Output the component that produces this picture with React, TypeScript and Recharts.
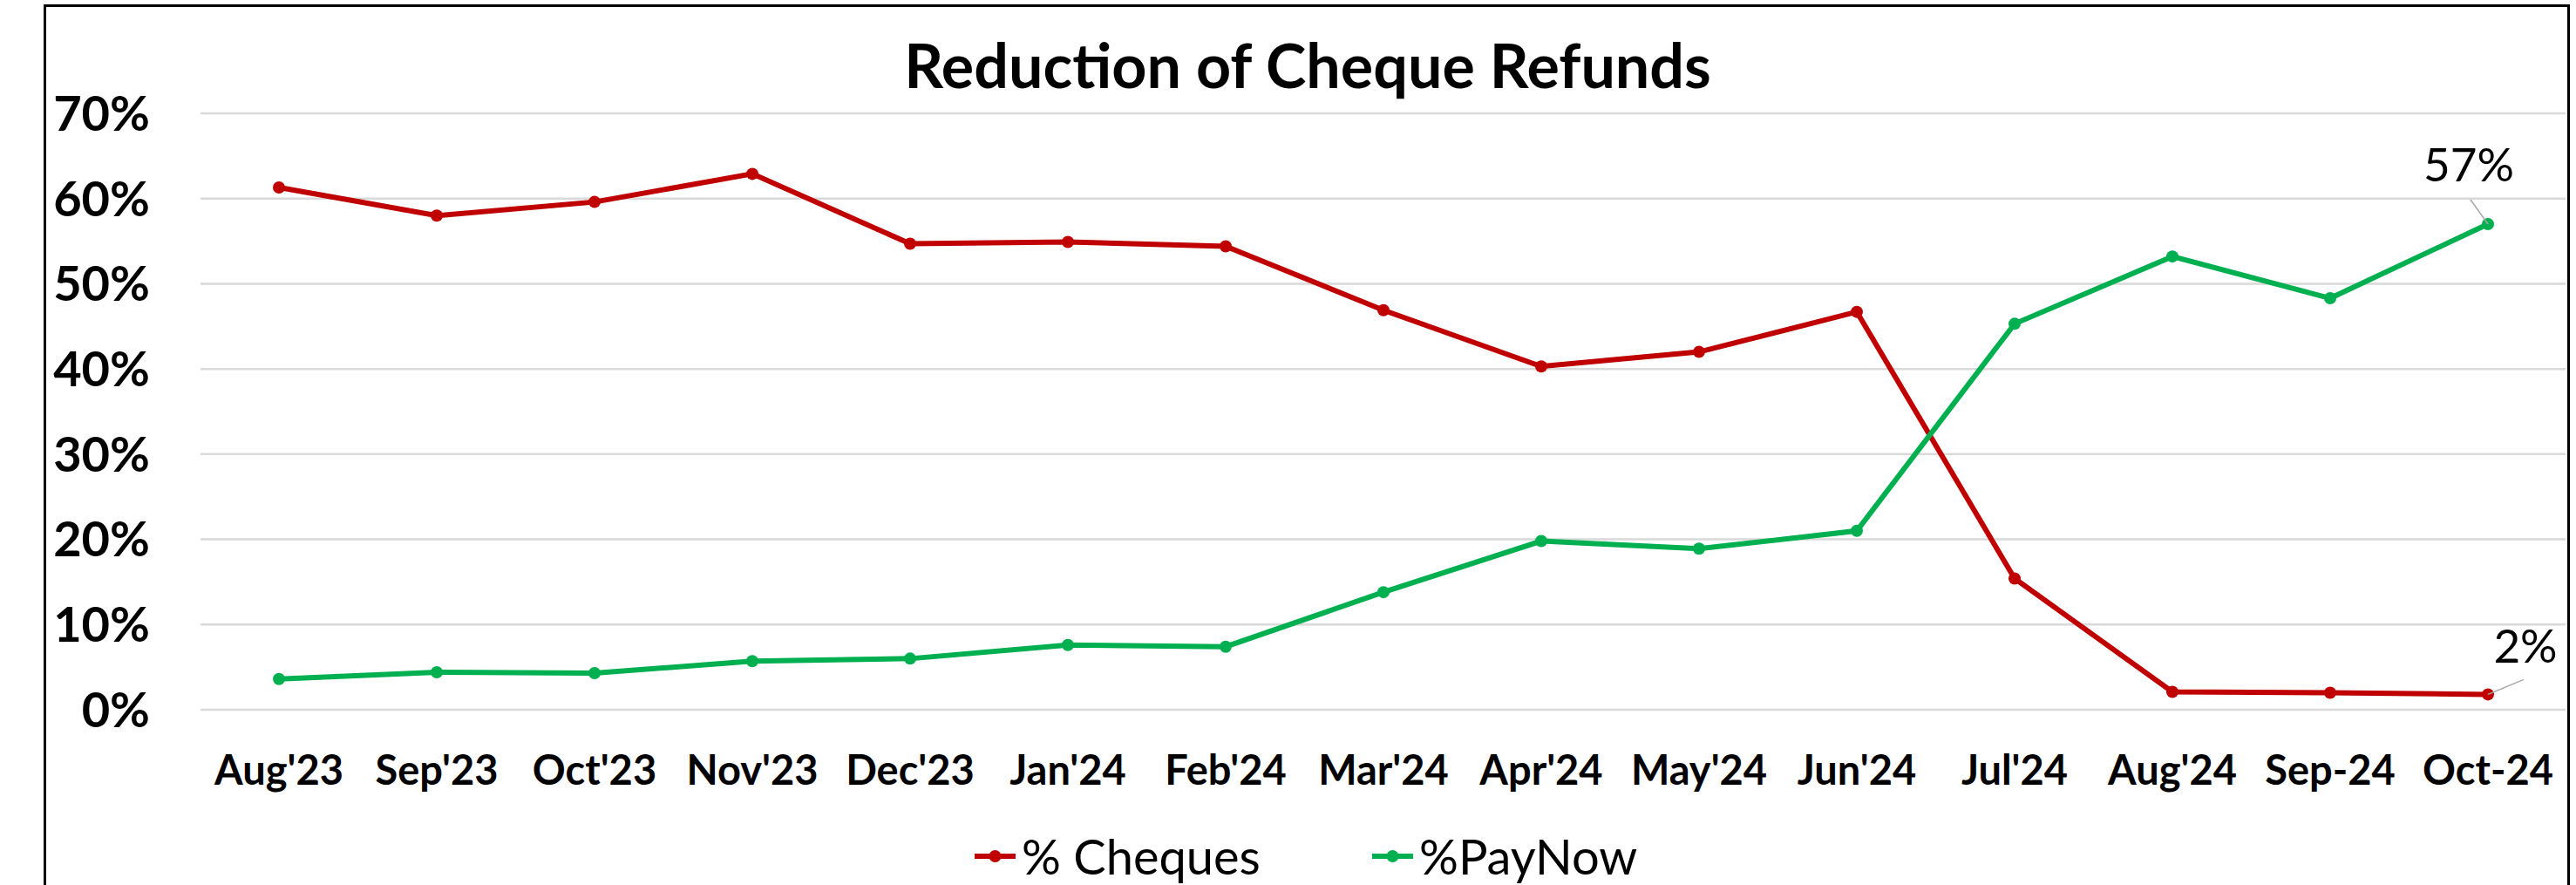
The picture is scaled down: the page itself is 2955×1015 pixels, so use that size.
import React from 'react';
import { LineChart, Line, XAxis, YAxis, CartesianGrid, LabelList } from 'recharts';

// months on the category axis
const months = [
  "Aug'23", "Sep'23", "Oct'23", "Nov'23", "Dec'23", "Jan'24", "Feb'24", "Mar'24",
  "Apr'24", "May'24", "Jun'24", "Jul'24", "Aug'24", "Sep-24", "Oct-24",
];

// share of refunds paid by cheque (%)
const chequesPct = [61.3, 58.0, 59.6, 62.9, 54.7, 54.9, 54.4, 46.9, 40.3, 42.0, 46.7, 15.4, 2.1, 2.0, 1.8];

// share of refunds paid by PayNow (%)
const payNowPct = [3.6, 4.4, 4.3, 5.7, 6.0, 7.6, 7.4, 13.8, 19.8, 18.9, 21.0, 45.3, 53.2, 48.3, 57.0];

const yTicks = [0, 10, 20, 30, 40, 50, 60, 70];

const series = [
  { key: 'cheques', name: '% Cheques', color: '#C00000', labelDx: 43, labelDy: -57 },
  { key: 'paynow', name: '%PayNow', color: '#00B050', labelDx: -22, labelDy: -70 },
];

const FONT = 'Lato, Carlito, Calibri, sans-serif';

interface Row {
  month: string;
  cheques: number;
  paynow: number;
}

const data: Row[] = months.map((m, i) => ({
  month: m,
  cheques: chequesPct[i],
  paynow: payNowPct[i],
}));

// data label for the last point only, with a thin leader line
function makeLastLabel(dx: number, dy: number) {
  return function LastLabel(props: any) {
    const { x, y, value, index } = props;
    if (index !== months.length - 1) return null;
    const tx = x + dx;
    const ty = y + dy;
    // leader line runs from the point toward the text
    const lx = dx > 0 ? tx - 2 : tx + 2;
    const ly = dx > 0 ? ty + 40 : ty + 42;
    return (
      <g>
        <line x1={x} y1={y} x2={lx} y2={ly} stroke="#A6A6A6" strokeWidth={1.5} />
        <text
          x={tx}
          y={ty}
          textAnchor="middle"
          dominantBaseline="central"
          fontFamily={FONT}
          fontSize={53}
          fill="#000"
        >
          {`${Math.round(value)}%`}
        </text>
      </g>
    );
  };
}

function LegendIcon({ color }: { color: string }) {
  return (
    <svg width={47} height={20} style={{ display: 'block' }}>
      <line x1={0} y1={10} x2={47} y2={10} stroke={color} strokeWidth={6} />
      <circle cx={23.5} cy={10} r={7} fill={color} />
    </svg>
  );
}

export default function App() {
  return (
    <div
      style={{
        position: 'absolute',
        left: 0,
        top: 0,
        width: 2955,
        height: 1015,
        overflow: 'hidden',
        background: '#fff',
        fontFamily: FONT,
      }}
    >
      {/* chart frame */}
      <div
        style={{
          position: 'absolute',
          left: 50,
          top: 5,
          width: 2898,
          height: 1100,
          border: '3px solid #000',
          boxSizing: 'border-box',
          pointerEvents: 'none',
        }}
      />

      {/* title */}
      <svg width={2955} height={130} style={{ position: 'absolute', left: 0, top: 0 }}>
        <text
          x={1500}
          y={101}
          textAnchor="middle"
          fontFamily={FONT}
          fontWeight={700}
          fontSize={70}
          fill="#000"
        >
          Reduction of Cheque Refunds
        </text>
      </svg>

      <div style={{ position: 'absolute', left: 0, top: 0 }}>
        <LineChart
          width={2955}
          height={1015}
          data={data}
          margin={{ top: 130, right: 12, bottom: 101, left: 0 }}
        >
          <CartesianGrid vertical={false} stroke="#D9D9D9" strokeWidth={2.5} />
          <XAxis
            dataKey="month"
            height={100}
            padding={{ left: 90, right: 89 }}
            tickLine={false}
            axisLine={false}
            tickSize={0}
            tickMargin={53}
            interval={0}
            tick={{ fill: '#000', fontSize: 47, fontWeight: 700, fontFamily: FONT }}
          />
          <YAxis
            width={230}
            domain={[0, 70]}
            ticks={yTicks}
            tickLine={false}
            axisLine={false}
            tickSize={0}
            tickMargin={58}
            tickFormatter={(v: number) => `${v}%`}
            tick={{ fill: '#000', fontSize: 56, fontWeight: 700, fontFamily: FONT }}
          />
          {series.map((s) => (
            <Line
              key={s.key}
              dataKey={s.key}
              name={s.name}
              type="linear"
              stroke={s.color}
              strokeWidth={6}
              dot={{ r: 7, fill: s.color, stroke: s.color, strokeWidth: 0 }}
              activeDot={false}
              isAnimationActive={false}
            >
              <LabelList dataKey={s.key} content={makeLastLabel(s.labelDx, s.labelDy)} />
            </Line>
          ))}
        </LineChart>
      </div>

      {/* legend */}
      {series.map((s, i) => (
        <div
          key={s.key}
          style={{
            position: 'absolute',
            left: i === 0 ? 1118 : 1574,
            top: 982,
            transform: 'translateY(-50%)',
            display: 'flex',
            alignItems: 'center',
            gap: 7,
            fontSize: 56,
            lineHeight: 1,
            color: '#000',
            whiteSpace: 'nowrap',
          }}
        >
          <LegendIcon color={s.color} />
          <span>{s.name}</span>
        </div>
      ))}
    </div>
  );
}
